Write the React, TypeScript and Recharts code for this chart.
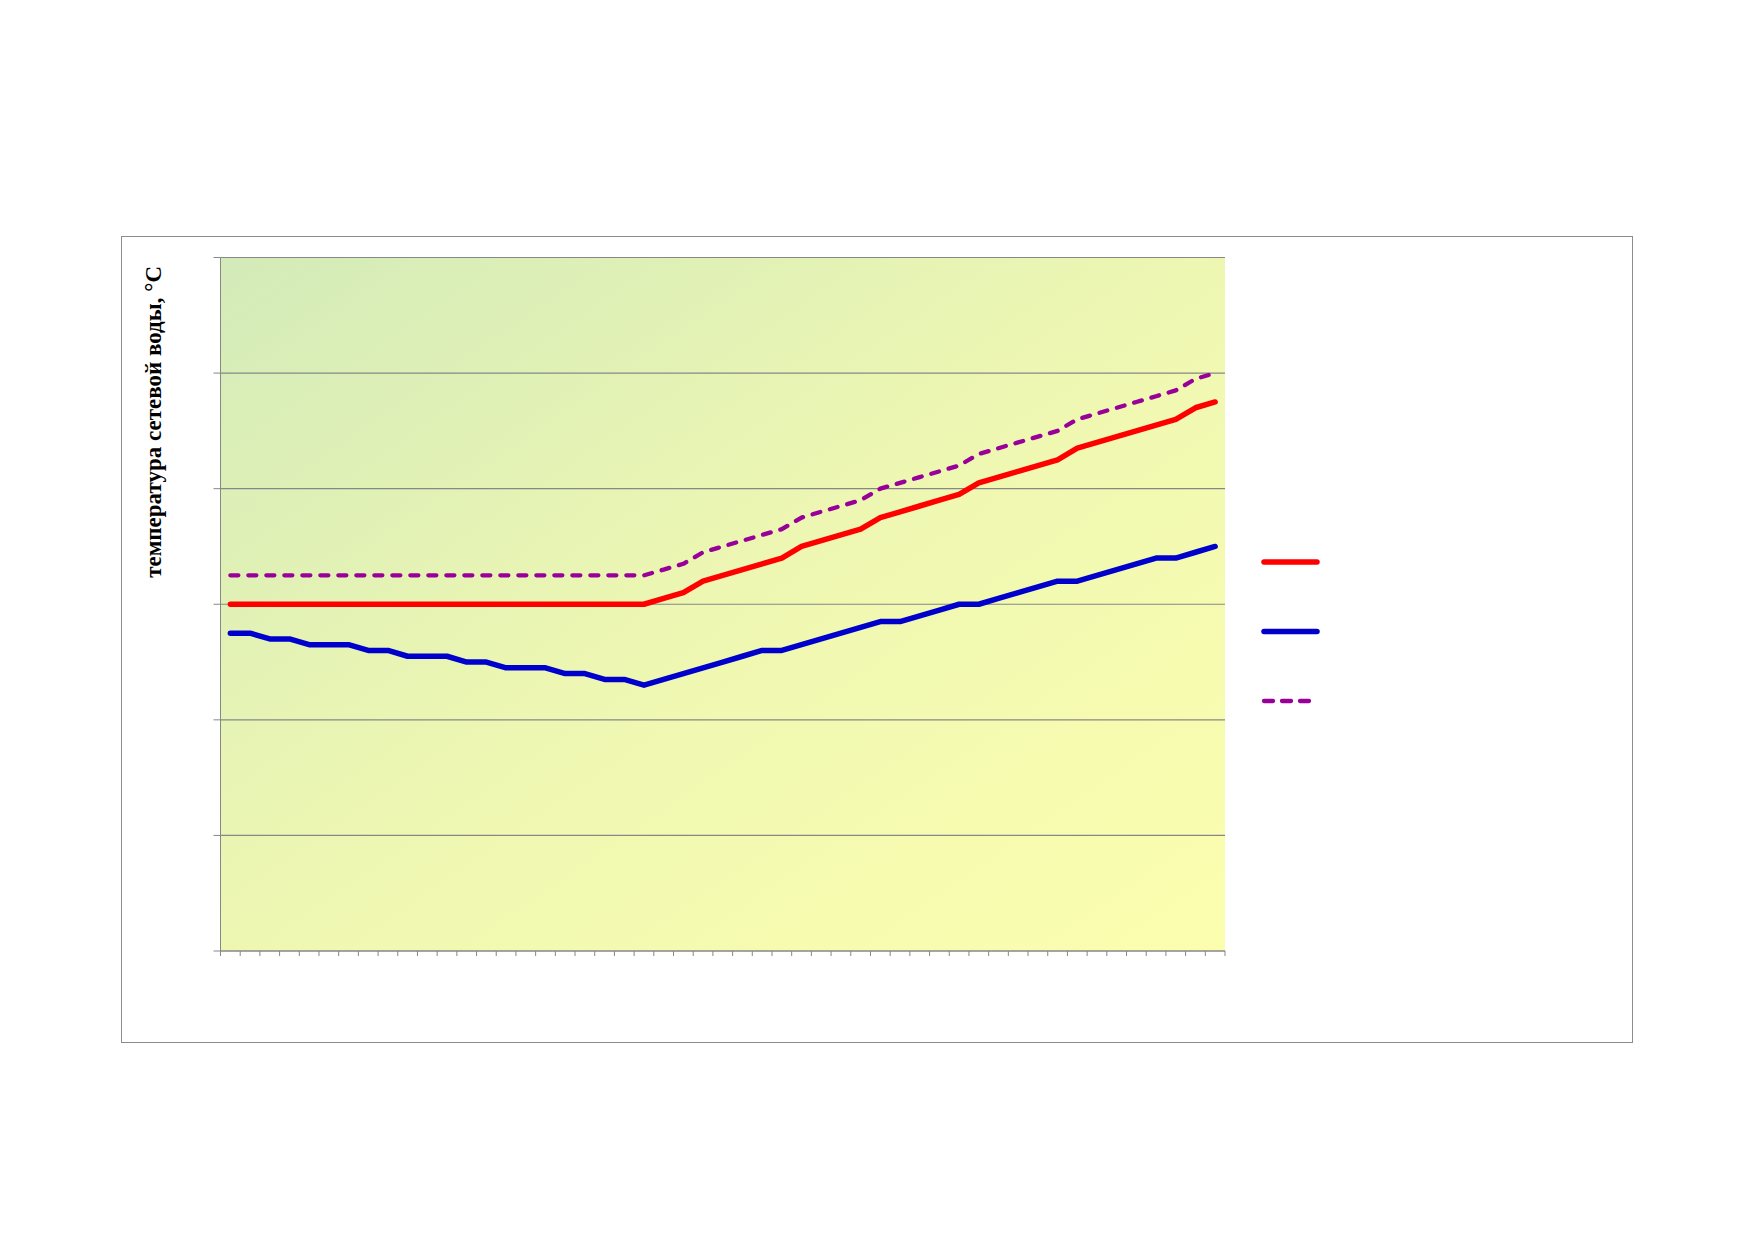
import React from "react";
import { LineChart, Line, XAxis, YAxis, CartesianGrid, Legend } from "recharts";

// outdoor air temperature, °C (categories, labels are not shown on the chart)
const outdoorTemps = [
	8, 7, 6, 5, 4, 3, 2, 1, 0, -1, -2, -3, -4, -5, -6, -7, -8, -9, -10, -11, -12, -13, -14, -15, -16, -17,
	-18, -19, -20, -21, -22, -23, -24, -25, -26, -27, -28, -29, -30, -31, -32, -33, -34, -35, -36, -37, -38,
	-39, -40, -41, -42,
];

const supplyTemp = [
	60, 60, 60, 60, 60, 60, 60, 60, 60, 60, 60, 60, 60, 60, 60, 60, 60, 60, 60, 60, 60, 60,
	61, 62, 64, 65, 66, 67, 68, 70, 71, 72, 73, 75, 76, 77, 78, 79, 81, 82, 83, 84, 85, 87, 88, 89, 90, 91, 92, 94, 95,
];

const returnTemp = [
	55, 55, 54, 54, 53, 53, 53, 52, 52, 51, 51, 51, 50, 50, 49, 49, 49, 48, 48, 47, 47, 46,
	47, 48, 49, 50, 51, 52, 52, 53, 54, 55, 56, 57, 57, 58, 59, 60, 60, 61, 62, 63, 64, 64, 65, 66, 67, 68, 68, 69, 70,
];

const upperTemp = [
	65, 65, 65, 65, 65, 65, 65, 65, 65, 65, 65, 65, 65, 65, 65, 65, 65, 65, 65, 65, 65, 65,
	66, 67, 69, 70, 71, 72, 73, 75, 76, 77, 78, 80, 81, 82, 83, 84, 86, 87, 88, 89, 90, 92, 93, 94, 95, 96, 97, 99, 100,
];

const yTicks = [0, 20, 40, 60, 80, 100, 120];

// category i sits in the middle of the band [i, i + 1]
const chartData = outdoorTemps.map((t, i) => ({
	t,
	pos: i + 0.5,
	supply: supplyTemp[i],
	ret: returnTemp[i],
	upper: upperTemp[i],
}));
const xTicks = [...outdoorTemps.map((_t, i) => i), outdoorTemps.length];

const series = [
	{ key: "supply", color: "#ff0000", width: 5.5, dash: undefined as string | undefined },
	{ key: "ret", color: "#0000cc", width: 5.5, dash: undefined as string | undefined },
	{ key: "upper", color: "#990099", width: 4.3, dash: "8 10" },
];

const axisColor = "#878787";

const NoLabel = () => <g />;

const YTitle = () => (
	<text
		x={39}
		y={29}
		transform="rotate(-90 39 29)"
		textAnchor="end"
		fontFamily="'Liberation Serif', 'Times New Roman', serif"
		fontWeight="bold"
		fontSize={23}
		fill="#000"
	>
		температура сетевой воды, °С
	</text>
);

const LegendSwatches = () => (
	<svg width={64} height={160}>
		{series.map((s, i) => (
			<line
				key={`lg-${s.key}`}
				x1={4}
				x2={s.dash ? 49 : 57}
				y1={10 + i * 69.5}
				y2={10 + i * 69.5}
				stroke={s.color}
				strokeWidth={s.dash ? 4.3 : 5.5}
				strokeDasharray={s.dash ? "9 9" : undefined}
				strokeLinecap="round"
			/>
		))}
	</svg>
);

export default function App() {
	return (
		<div
			style={{
				position: "absolute",
				left: 121,
				top: 236,
				width: 1512,
				height: 807,
				boxSizing: "border-box",
				border: "1px solid #8c8c8c",
				background: "#fff",
			}}
		>
			<LineChart width={1510} height={805} data={chartData} margin={{ top: 20.5, right: 407, bottom: 0, left: 0 }}>
				<defs>
					<linearGradient id="plotBg" x1="0" y1="0" x2="1" y2="1">
						<stop offset="0%" stopColor="#d3ebb9" />
						<stop offset="50%" stopColor="#eef7b2" />
						<stop offset="100%" stopColor="#fcfeae" />
					</linearGradient>
				</defs>
				<CartesianGrid vertical={false} stroke={axisColor} strokeWidth={1.2} fill="url(#plotBg)" fillOpacity={1} />
				<XAxis
					type="number"
					dataKey="pos"
					domain={[0, outdoorTemps.length]}
					ticks={xTicks}
					interval={0}
					tick={<NoLabel />}
					tickSize={5}
					height={91}
					stroke={axisColor}
					axisLine={{ stroke: axisColor }}
					tickLine={{ stroke: axisColor }}
				/>
				<YAxis
					domain={[0, 120]}
					ticks={yTicks}
					interval={0}
					tick={<NoLabel />}
					tickSize={7}
					width={98.5}
					stroke={axisColor}
					axisLine={{ stroke: axisColor }}
					tickLine={{ stroke: axisColor }}
					label={<YTitle />}
				/>
				{series.map((s) => (
					<Line
						key={s.key}
						type="linear"
						dataKey={s.key}
						stroke={s.color}
						strokeWidth={s.width}
						strokeDasharray={s.dash}
						strokeLinecap="round"
						strokeLinejoin="round"
						dot={false}
						activeDot={false}
						isAnimationActive={false}
					/>
				))}
				<Legend
					layout="vertical"
					align="center"
					verticalAlign="middle"
					content={<LegendSwatches />}
					wrapperStyle={{ left: 1138, top: 314.7, width: 64, height: 160 }}
				/>
			</LineChart>
		</div>
	);
}
